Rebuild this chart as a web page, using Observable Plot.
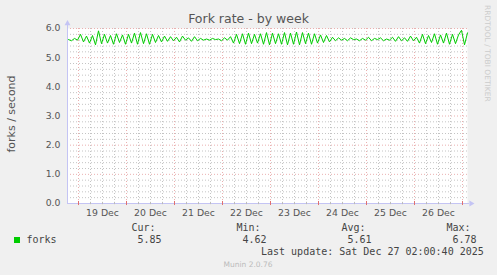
<!DOCTYPE html>
<html><head><meta charset="utf-8">
<script src="https://cdn.jsdelivr.net/npm/d3@7"></script>
<script src="https://cdn.jsdelivr.net/npm/@observablehq/plot@0.6"></script>
<style>
html,body{margin:0;padding:0;background:#f0f0f0;}
#chart{width:497px;height:275px;overflow:hidden;}
</style></head><body><div id="chart"></div>
<script>
const title = "Fork rate - by week";
const yLabel = "forks / second";
const seriesName = "forks";
const dayLabels = ["19 Dec","20 Dec","21 Dec","22 Dec","23 Dec","24 Dec","25 Dec","26 Dec"];
const dayStartHours = [24,48,72,96,120,144,168,192,216]; // hours since 18 Dec 00:00
const yTicks = [0,1,2,3,4,5,6];
const statLabels = ["Cur:","Min:","Avg:","Max:"];
const statValues = ["5.85","4.62","5.61","6.78"];
const lastUpdate = "Last update: Sat Dec 27 02:00:40 2025";
const footer = "Munin 2.0.76";
const watermark = "RRDTOOL / TOBI OETIKER";
const firstSampleHour = 19;
const sampleStepHours = 1.5;
const forks = [
  5.62,5.58,5.66,5.60,5.80,5.54,5.74,5.50,5.76,5.44,5.92,5.48,
  5.80,5.50,5.76,5.46,5.82,5.52,5.78,5.46,5.80,5.50,5.84,5.46,5.86,5.48,5.82,5.46,5.80,5.52,5.76,5.54,5.74,
  5.56,5.72,5.58,5.70,5.54,5.74,5.60,5.68,5.56,5.72,5.58,5.66,5.60,
  5.64,5.60,5.66,5.62,5.64,5.58,5.68,5.60,5.72,
  5.50,5.80,5.48,5.82,5.46,5.84,5.48,5.80,5.50,5.82,5.46,5.86,5.44,5.84,5.48,5.82,5.46,5.86,5.44,5.84,5.46,5.88,5.44,5.86,5.48,5.84,5.46,5.82,5.50,5.78,5.52,5.76,5.54,
  5.70,5.58,5.68,5.60,5.66,5.58,5.68,5.62,5.64,5.58,5.66,5.60,5.70,5.58,5.66,5.62,5.68,5.58,5.64,5.60,5.70,5.56,5.72,5.58,5.68,5.56,5.74,5.58,5.70,
  5.50,5.80,5.48,5.76,5.52,5.82,5.46,5.78,5.50,5.84,5.46,5.80,5.48,5.78,5.94,5.44,5.85
];

const data = forks.map((v, i) => ({h: firstSampleHour + i * sampleStepHours, v}));
const xDomain = [18.5, 218.5];
const minorX = d3.range(24, 219, 6).filter(h => h % 24 !== 0);
const minorY = d3.range(1, 30).filter(i => i % 5 !== 0).map(i => i / 5);
const majorY = yTicks.filter(d => d > 0);

const gridMinor = "#c4c4c4", gridMajor = "#eab0b0", axisCol = "#c4c4f4", txt = "#555";

const svg = Plot.plot({
  width: 497, height: 275,
  marginLeft: 67, marginRight: 30, marginTop: 28, marginBottom: 72,
  x: {domain: xDomain, axis: null},
  y: {domain: [0, 6], axis: null},
  style: {background: "#f0f0f0", fontFamily: "DejaVu Sans", fontSize: "9.3px", color: txt},
  marks: [
    Plot.frame({fill: "white", stroke: "none"}),
    Plot.ruleY(minorY, {stroke: gridMinor, strokeDasharray: "1,2"}),
    Plot.ruleX(minorX, {stroke: gridMinor, strokeDasharray: "1,2"}),
    Plot.ruleY(majorY, {stroke: gridMajor, strokeDasharray: "1,2"}),
    Plot.ruleX(dayStartHours, {stroke: gridMajor, strokeDasharray: "1,2"}),
    Plot.ruleX([xDomain[0]], {y1: 0, y2: 6.12, stroke: axisCol}),
    Plot.ruleY([0], {x1: xDomain[0], x2: 219.5, stroke: axisCol}),
    Plot.ruleX(minorX, {y1: -0.04, y2: 0.04, stroke: "#bbbbbb"}),
    Plot.ruleX(dayStartHours, {y1: -0.07, y2: 0.07, stroke: "#e07070"}),
    Plot.dot([{x: xDomain[0], y: 6.17}], {x: "x", y: "y", symbol: "triangle", r: 2.2, fill: axisCol, stroke: "none"}),
    Plot.dot([{x: 220.3, y: 0}], {x: "x", y: "y", symbol: "triangle", r: 2.2, rotate: 90, fill: axisCol, stroke: "none"}),
    Plot.line(data, {x: "h", y: "v", stroke: "#00cc00", strokeWidth: 1}),
    Plot.text(yTicks, {x: () => xDomain[0], y: d => d, text: d => d.toFixed(1), textAnchor: "end", dx: -7, fill: txt}),
    Plot.text(dayLabels, {x: (d, i) => dayStartHours[i] + 12, y: () => 0, text: d => d, dy: 10, fill: txt})
  ]
});

const s = d3.select(svg);
const addText = (x, y, str, opts = {}) => s.append("text")
  .attr("x", x).attr("y", y)
  .attr("text-anchor", opts.anchor || "start")
  .attr("font-family", opts.family || "DejaVu Sans Mono")
  .attr("font-size", opts.size || "10px")
  .attr("fill", opts.fill || "#444")
  .attr("transform", opts.transform || null)
  .text(str);
addText(248.5, 23, title, {anchor: "middle", family: "DejaVu Sans", size: "12.5px", fill: txt});
addText(0, 0, yLabel, {anchor: "middle", family: "DejaVu Sans", size: "11px", fill: txt, transform: "translate(15,114) rotate(-90)"});
addText(0, 0, watermark, {anchor: "start", family: "DejaVu Sans", size: "7.5px", fill: "#cccccc", transform: "translate(485,5) rotate(90)"});
s.append("rect").attr("x", 14).attr("y", 237).attr("width", 6).attr("height", 6).attr("fill", "#00cc00");
addText(26.5, 243, seriesName);
const statX = [131.5, 236.5, 341.5, 446.5];
statLabels.forEach((l, i) => {
  addText(statX[i], 231, l);
  addText(statX[i] + 6, 243, statValues[i]);
});
addText(261, 255, lastUpdate);
addText(248, 266.5, footer, {anchor: "middle", family: "DejaVu Sans", size: "7.5px", fill: "#bbbbbb"});

document.getElementById("chart").appendChild(svg);
</script></body></html>
